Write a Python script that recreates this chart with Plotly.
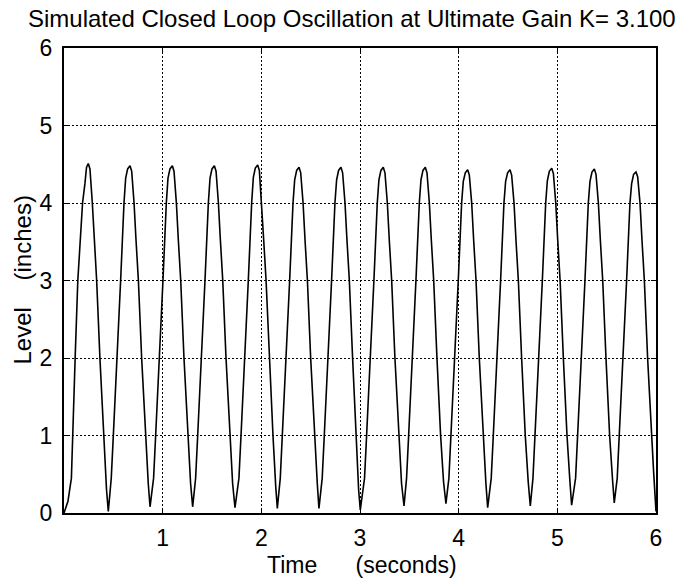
import plotly.graph_objects as go

# Vertices of the simulated level trace (time in s, level in inches)
time_s = [
    0.000, 0.040, 0.075, 0.086, 0.113, 0.140, 0.188, 0.212, 0.228, 0.246,
    0.263, 0.287, 0.307, 0.331, 0.364, 0.401, 0.431, 0.449,
    0.479, 0.500, 0.540, 0.574, 0.608, 0.625, 0.645, 0.669,
    0.686, 0.710, 0.730, 0.754, 0.787, 0.824, 0.854, 0.872,
    0.908, 0.929, 0.969, 1.003, 1.037, 1.054, 1.074, 1.098,
    1.115, 1.139, 1.159, 1.183, 1.216, 1.253, 1.283, 1.304,
    1.334, 1.355, 1.395, 1.429, 1.463, 1.480, 1.500, 1.524,
    1.541, 1.565, 1.585, 1.609, 1.642, 1.679, 1.709, 1.733,
    1.773, 1.794, 1.834, 1.868, 1.902, 1.919, 1.939, 1.963,
    1.980, 2.004, 2.024, 2.048, 2.081, 2.118, 2.146, 2.162,
    2.192, 2.213, 2.253, 2.287, 2.321, 2.338, 2.358, 2.382,
    2.399, 2.423, 2.443, 2.467, 2.500, 2.537, 2.567, 2.584,
    2.617, 2.638, 2.678, 2.712, 2.746, 2.763, 2.783, 2.807,
    2.824, 2.848, 2.868, 2.892, 2.925, 2.960, 2.986, 3.003,
    3.046, 3.067, 3.107, 3.141, 3.175, 3.192, 3.212, 3.236,
    3.253, 3.277, 3.297, 3.321, 3.354, 3.391, 3.421, 3.446,
    3.472, 3.493, 3.533, 3.567, 3.601, 3.618, 3.638, 3.662,
    3.679, 3.703, 3.723, 3.747, 3.780, 3.817, 3.847, 3.871,
    3.901, 3.922, 3.962, 3.996, 4.030, 4.047, 4.067, 4.091,
    4.108, 4.132, 4.152, 4.176, 4.209, 4.246, 4.276, 4.294,
    4.330, 4.351, 4.391, 4.425, 4.459, 4.476, 4.496, 4.520,
    4.537, 4.561, 4.581, 4.605, 4.638, 4.675, 4.705, 4.726,
    4.753, 4.774, 4.814, 4.848, 4.882, 4.899, 4.919, 4.943,
    4.960, 4.984, 5.004, 5.028, 5.061, 5.098, 5.128, 5.145,
    5.185, 5.206, 5.246, 5.280, 5.314, 5.331, 5.351, 5.375,
    5.392, 5.416, 5.436, 5.460, 5.493, 5.530, 5.560, 5.577,
    5.607, 5.628, 5.668, 5.702, 5.736, 5.753, 5.773, 5.797,
    5.814, 5.838, 5.858, 5.882, 5.915, 5.952, 5.975, 6.000,
]
level_in = [
    0.00, 0.15, 0.45, 1.00, 2.00, 3.00, 4.00, 4.25, 4.46, 4.51,
    4.44, 4.00, 3.52, 3.00, 2.00, 1.00, 0.30, 0.02,
    0.45, 1.00, 2.00, 3.00, 4.00, 4.32, 4.44, 4.48,
    4.41, 4.00, 3.52, 3.00, 2.00, 1.00, 0.38, 0.08,
    0.45, 1.00, 2.00, 3.00, 4.00, 4.32, 4.44, 4.48,
    4.41, 4.00, 3.52, 3.00, 2.00, 1.00, 0.38, 0.08,
    0.45, 1.00, 2.00, 3.00, 4.00, 4.32, 4.44, 4.48,
    4.41, 4.00, 3.52, 3.00, 2.00, 1.00, 0.38, 0.07,
    0.45, 1.00, 2.00, 3.00, 4.00, 4.33, 4.45, 4.49,
    4.42, 4.00, 3.52, 3.00, 2.00, 1.00, 0.34, 0.06,
    0.45, 1.00, 2.00, 3.00, 4.00, 4.30, 4.42, 4.46,
    4.39, 4.00, 3.52, 3.00, 2.00, 1.00, 0.38, 0.06,
    0.45, 1.00, 2.00, 3.00, 4.00, 4.30, 4.42, 4.46,
    4.39, 4.00, 3.52, 3.00, 2.00, 1.00, 0.30, 0.04,
    0.45, 1.00, 2.00, 3.00, 4.00, 4.30, 4.42, 4.46,
    4.39, 4.00, 3.52, 3.00, 2.00, 1.00, 0.38, 0.09,
    0.45, 1.00, 2.00, 3.00, 4.00, 4.30, 4.42, 4.46,
    4.39, 4.00, 3.52, 3.00, 2.00, 1.00, 0.40, 0.12,
    0.45, 1.00, 2.00, 3.00, 4.00, 4.28, 4.39, 4.43,
    4.36, 4.00, 3.52, 3.00, 2.00, 1.00, 0.38, 0.07,
    0.45, 1.00, 2.00, 3.00, 4.00, 4.28, 4.39, 4.43,
    4.36, 4.00, 3.52, 3.00, 2.00, 1.00, 0.40, 0.09,
    0.45, 1.00, 2.00, 3.00, 4.00, 4.29, 4.41, 4.45,
    4.38, 4.00, 3.52, 3.00, 2.00, 1.00, 0.40, 0.10,
    0.45, 1.00, 2.00, 3.00, 4.00, 4.28, 4.40, 4.44,
    4.37, 4.00, 3.52, 3.00, 2.00, 1.00, 0.42, 0.13,
    0.45, 1.00, 2.00, 3.00, 4.00, 4.25, 4.37, 4.40,
    4.34, 4.00, 3.52, 3.00, 2.00, 1.00, 0.55, 0.02,
]

x_ticks = [1, 2, 3, 4, 5, 6]
y_ticks = [0, 1, 2, 3, 4, 5, 6]

title_text = "Simulated Closed Loop Oscillation at Ultimate Gain K= 3.100"
x_label = "Time" + "\u00a0" * 6 + "(seconds)"
y_label = "Level" + "\u00a0" * 4 + "(inches)"

FONT = "Liberation Sans, Arial, Helvetica, sans-serif"

fig = go.Figure()
fig.add_trace(go.Scatter(
    x=time_s, y=level_in, mode="lines",
    line=dict(color="black", width=1.6),
    showlegend=False, hoverinfo="skip",
))

axis_common = dict(
    showgrid=True, gridcolor="black", gridwidth=1, griddash="2px,2px",
    showline=True, linecolor="black", linewidth=2, mirror="ticks",
    ticks="inside", ticklen=5, tickwidth=1, tickcolor="black",
    zeroline=False, range=[0, 6],
    tickfont=dict(family=FONT, size=23, color="black"),
)

fig.update_layout(
    width=700, height=584,
    margin=dict(l=64, r=44, t=48, b=71),
    paper_bgcolor="white", plot_bgcolor="white",
    xaxis=dict(**axis_common, tickvals=x_ticks, ticktext=[str(v) for v in x_ticks],
               ticklabelstandoff=3),
    yaxis=dict(**axis_common, tickvals=y_ticks, ticktext=[str(v) for v in y_ticks],
               ticklabelstandoff=5),
    annotations=[
        dict(text=title_text, xref="paper", yref="paper",
             x=(352 - 64) / 592, y=1 + (48 - 18) / 465,
             xanchor="center", yanchor="middle", showarrow=False,
             font=dict(family=FONT, size=24, color="black")),
        dict(text=x_label, xref="paper", yref="paper",
             x=(362 - 64) / 592, y=-(565 - 513) / 465,
             xanchor="center", yanchor="middle", showarrow=False,
             font=dict(family=FONT, size=23, color="black")),
        dict(text=y_label, xref="paper", yref="paper",
             x=-(64 - 22) / 592, y=0.5, textangle=-90,
             xanchor="center", yanchor="middle", showarrow=False,
             font=dict(family=FONT, size=24, color="black")),
    ],
)

fig.write_html("out.html")
